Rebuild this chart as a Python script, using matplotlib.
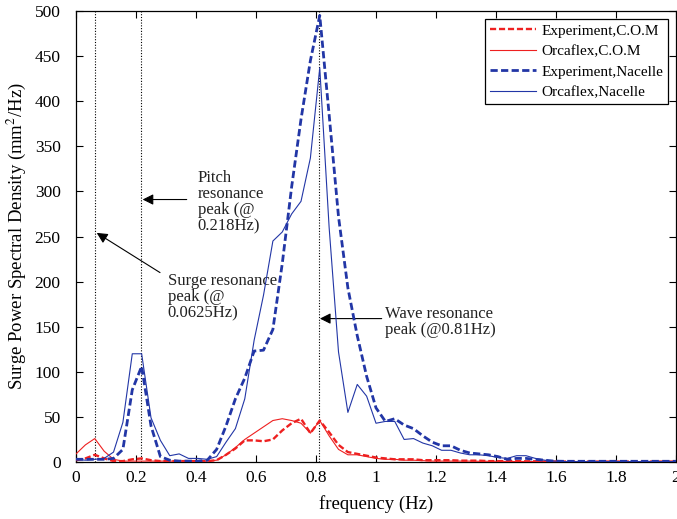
import matplotlib
matplotlib.use("Agg")
import matplotlib.pyplot as plt

freq = [0.0, 0.03125, 0.0625, 0.09375, 0.125, 0.15625, 0.1875, 0.21875, 0.25, 0.28125,
        0.3125, 0.34375, 0.375, 0.40625, 0.4375, 0.46875, 0.5, 0.53125, 0.5625, 0.59375,
        0.625, 0.65625, 0.6875, 0.71875, 0.75, 0.78125, 0.8125, 0.84375, 0.875, 0.90625,
        0.9375, 0.96875, 1.0, 1.03125, 1.0625, 1.09375, 1.125, 1.15625, 1.1875, 1.21875,
        1.25, 1.28125, 1.3125, 1.34375, 1.375, 1.40625, 1.4375, 1.46875, 1.5, 1.53125,
        1.5625, 1.59375, 1.625, 1.65625, 1.6875, 1.71875, 1.75, 1.78125, 1.8125, 1.84375,
        1.875, 1.90625, 1.9375, 1.96875, 2.0]

exp_com = [2, 4, 8, 4, 1, 1, 3, 4, 2, 1,
           1, 1, 1, 1, 1, 2, 8, 15, 24, 24,
           23, 25, 35, 43, 48, 32, 46, 33, 19, 11,
           9, 7, 5, 4, 3, 3, 3, 2, 2, 2,
           2, 1.5, 1.5, 1.5, 1, 1, 1, 1, 0.8, 0.8,
           0.6, 0.6, 0.5, 0.5, 0.5, 0.5, 0.5, 0.5, 0.5, 0.5,
           0.5, 0.5, 0.5, 0.5, 0.5]

orca_com = [9, 19, 26, 12, 3, 1, 1, 1, 1, 1,
            1, 1, 1, 1, 1, 2, 8, 16, 25, 32,
            39, 46, 48, 46, 43, 32, 46, 29, 14, 8,
            8, 6, 4, 3, 3, 2, 2, 1.5, 1, 1,
            1, 1, 1, 0.8, 0.8, 0.8, 0.6, 0.6, 0.6, 0.5,
            0.5, 0.5, 0.5, 0.5, 0.5, 0.5, 0.5, 0.5, 0.5, 0.5,
            0.5, 0.5, 0.5, 0.5, 0.5]

exp_nac = [3, 3, 3, 3, 4, 14, 80, 106, 40, 6,
           2, 1, 1, 1, 2, 14, 40, 70, 93, 123,
           124, 147, 220, 305, 380, 445, 495, 385, 272, 193,
           140, 95, 60, 45, 48, 41, 37, 29, 22, 18,
           18, 13, 10, 9, 8, 6, 3, 4, 4, 3,
           2, 1, 0.8, 0.8, 0.8, 0.8, 0.8, 0.8, 0.8, 0.8,
           0.8, 0.8, 0.8, 0.8, 0.8]

orca_nac = [3, 2, 3, 4, 11, 44, 120, 120, 49, 24,
            7, 9, 4, 4, 3, 6, 22, 37, 70, 135,
            185, 245, 255, 275, 289, 337, 437, 260, 122, 55,
            86, 73, 43, 45, 45, 25, 26, 21, 18, 13,
            13, 10, 8, 8, 7, 5, 4, 7, 7, 4,
            2, 1, 0.5, 0.5, 0.5, 0.5, 0.5, 0.5, 0.5, 0.5,
            0.5, 0.5, 0.5, 0.5, 0.5]

resonances = [0.0625, 0.218, 0.81]
xticks = [0, 0.2, 0.4, 0.6, 0.8, 1.0, 1.2, 1.4, 1.6, 1.8, 2.0]
xticklabels = ["0", "0.2", "0.4", "0.6", "0.8", "1", "1.2", "1.4", "1.6", "1.8", "2"]
yticks = [0, 50, 100, 150, 200, 250, 300, 350, 400, 450, 500]

plt.rcParams['font.family'] = ['Liberation Serif', 'DejaVu Serif']
plt.rcParams['mathtext.fontset'] = 'stix'

RED = '#ee2020'
BLUE = '#2236a6'

fig = plt.figure(figsize=(6.77, 5.19), dpi=100)
ax = fig.add_axes([0.1123, 0.1098, 0.8862, 0.869])

ax.plot(freq, exp_com, color=RED, lw=1.7, dashes=(2.6, 1.2), label='Experiment,C.O.M', zorder=3)
ax.plot(freq, orca_com, color=RED, lw=0.8, label='Orcaflex,C.O.M', zorder=3)
ax.plot(freq, exp_nac, color=BLUE, lw=2.0, dashes=(2.6, 1.2), label='Experiment,Nacelle', zorder=4)
ax.plot(freq, orca_nac, color=BLUE, lw=0.8, label='Orcaflex,Nacelle', zorder=4)

for f in resonances:
    ax.axvline(f, color='black', lw=0.8, ls=(0, (1, 1.5)), zorder=2)

ax.set_xlim(0, 2)
ax.set_ylim(0, 500)
ax.set_xticks(xticks)
ax.set_xticklabels(xticklabels)
ax.set_yticks(yticks)
ax.tick_params(direction='in', top=True, right=True, labelsize=12.5, length=5, width=0.8)
ax.tick_params(axis='y', pad=11)
ax.tick_params(axis='x', pad=6)
for s in ax.spines.values():
    s.set_linewidth(0.9)

ax.set_xlabel('frequency (Hz)', fontsize=13.5, labelpad=6)
ax.set_ylabel('Surge Power Spectral Density (mm$^2$/Hz)', fontsize=13.5, labelpad=5)

arrow = dict(arrowstyle='-|>', color='black', lw=0.8, mutation_scale=16, shrinkA=0, shrinkB=0)
ax.annotate('', xy=(0.222, 291), xytext=(0.369, 291), arrowprops=arrow)
ax.annotate('', xy=(0.069, 254), xytext=(0.28, 210), arrowprops=arrow)
ax.annotate('', xy=(0.813, 159), xytext=(1.019, 159), arrowprops=arrow)

ax.text(0.406, 324, 'Pitch\nresonance\npeak (@\n0.218Hz)', fontsize=12, va='top', ha='left',
        linespacing=1.03, color='#222222')
ax.text(0.306, 210, 'Surge resonance\npeak (@\n0.0625Hz)', fontsize=12, va='top', ha='left',
        linespacing=1.03, color='#222222')
ax.text(1.03, 173, 'Wave resonance\npeak (@0.81Hz)', fontsize=12, va='top', ha='left',
        linespacing=1.03, color='#222222')

leg = ax.legend(loc='upper right', fontsize=11, handlelength=3.0, handletextpad=0.35,
                borderaxespad=0.55, borderpad=0.3, labelspacing=0.45, fancybox=False,
                framealpha=1, edgecolor='black')
leg.get_frame().set_linewidth(0.9)

fig.savefig('out.png', dpi=100)
